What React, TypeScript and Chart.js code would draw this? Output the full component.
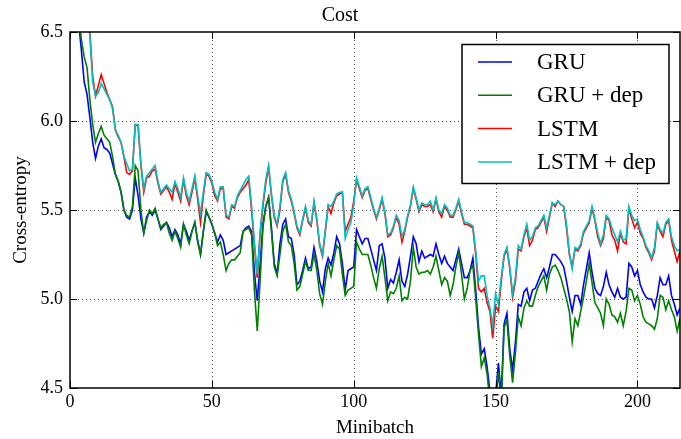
import React, { useEffect, useRef } from "react";
import { Chart, registerables } from "chart.js";

Chart.register(...registerables);

const title = "Cost";
const xTitle = "Minibatch";
const yTitle = "Cross-entropy";
const seriesNames = ["GRU", "GRU + dep", "LSTM", "LSTM + dep"];
const seriesColors = ["#0000ff", "#008000", "#ff0000", "#00bfbf"];
const xTicks = [0, 50, 100, 150, 200];
const yTicks = [4.5, 5.0, 5.5, 6.0, 6.5];

const gru = [
  7.2, 6.95, 6.75, 6.56, 6.4, 6.22, 6.15, 6.02, 5.88, 5.79,
  5.86, 5.9, 5.85, 5.84, 5.82, 5.76, 5.7, 5.66, 5.6, 5.5,
  5.46, 5.45, 5.5, 5.68, 5.58, 5.45, 5.37, 5.46, 5.49, 5.47,
  5.5, 5.45, 5.39, 5.41, 5.43, 5.4, 5.35, 5.39, 5.36, 5.31,
  5.42, 5.38, 5.33, 5.38, 5.43, 5.33, 5.25, 5.38, 5.49, 5.46,
  5.42, 5.37, 5.32, 5.36, 5.33, 5.25, 5.26, 5.27, 5.28, 5.29,
  5.3, 5.38, 5.4, 5.41, 5.38, 5.15, 4.99, 5.19, 5.42, 5.52,
  5.57, 5.4, 5.2, 5.14, 5.31, 5.42, 5.45, 5.35, 5.34, 5.25,
  5.08, 5.1, 5.16, 5.23, 5.17, 5.18, 5.29, 5.21, 5.1, 5.04,
  5.17, 5.23, 5.19, 5.26, 5.35, 5.31, 5.2, 5.05, 5.16, 5.17,
  5.18, 5.39, 5.35, 5.31, 5.34, 5.34, 5.28, 5.22, 5.16, 5.3,
  5.31, 5.23, 5.06, 5.11, 5.09, 5.15, 5.22, 5.1, 5.07, 5.14,
  5.24, 5.35, 5.31, 5.21, 5.27, 5.23, 5.24, 5.25, 5.24, 5.31,
  5.25, 5.2, 5.24, 5.2, 5.18, 5.16, 5.22, 5.28, 5.2, 5.12,
  5.12, 5.16, 5.23, 5.05, 4.84, 4.69, 4.72, 4.62, 4.48, 4.44,
  4.46, 4.64, 4.46, 4.86, 4.92, 4.72, 4.6, 4.76, 4.97, 4.96,
  5.04, 5.06, 4.99, 5.05, 5.06, 5.1, 5.14, 5.17, 5.12, 5.18,
  5.25, 5.25, 5.23, 5.21, 5.18, 5.1, 5.01, 4.93, 5.02, 5.02,
  4.97, 5.08, 5.17, 5.26, 5.15, 5.06, 5.03, 5.02, 5.07, 5.15,
  5.08, 5.04, 5.01, 5.06, 5.01, 5.0, 5.01, 5.2, 5.18, 5.13,
  5.16, 5.08, 5.04, 5.01, 5.0, 5.0, 4.95, 5.02, 5.12, 5.08,
  5.08, 5.13, 5.02, 4.97, 4.91, 4.95,
];

const gruDep = [
  7.2, 6.98, 6.78, 6.6, 6.46, 6.36, 6.3, 6.12, 5.98, 5.88,
  5.93, 5.97, 5.92, 5.9, 5.88, 5.8, 5.7, 5.66, 5.6, 5.5,
  5.47, 5.46, 5.52, 5.75, 5.72, 5.5, 5.37, 5.44, 5.5, 5.48,
  5.51, 5.45, 5.4, 5.42, 5.43, 5.37, 5.33, 5.38, 5.34, 5.29,
  5.42, 5.36, 5.31, 5.38, 5.43, 5.32, 5.25, 5.38, 5.5, 5.46,
  5.42, 5.37, 5.3, 5.32, 5.25, 5.16, 5.2, 5.22, 5.22, 5.24,
  5.26, 5.38, 5.39, 5.4, 5.36, 5.05, 4.82, 5.1, 5.4, 5.52,
  5.57, 5.38, 5.18, 5.13, 5.25, 5.38, 5.42, 5.32, 5.3, 5.2,
  5.05, 5.07, 5.14, 5.21, 5.16, 5.16, 5.25, 5.16, 5.03, 4.97,
  5.1, 5.2, 5.13, 5.22, 5.3, 5.28, 5.14, 5.02, 5.05, 5.06,
  5.07, 5.32, 5.28, 5.25, 5.25, 5.25, 5.19, 5.12, 5.06, 5.17,
  5.24, 5.12, 4.99, 5.04, 5.03, 5.06, 5.13, 4.99, 5.01, 5.0,
  5.1, 5.29, 5.18, 5.14, 5.15, 5.15, 5.16, 5.14, 5.18, 5.24,
  5.16, 5.08, 5.12, 5.1, 5.02, 5.08, 5.18, 5.26, 5.14, 5.0,
  5.06, 5.16, 5.19, 5.0, 4.8, 4.62, 4.67, 4.58, 4.42, 4.38,
  4.42, 4.59, 4.4, 4.84, 4.88, 4.68, 4.53, 4.7, 4.9, 4.85,
  4.95, 4.99, 4.96, 4.96, 5.02, 5.07, 5.1, 5.13, 5.05, 5.14,
  5.18, 5.19, 5.16, 5.12, 5.06, 5.0, 4.93, 4.76, 4.89, 4.85,
  4.93, 5.01, 5.1, 5.2, 5.09, 4.98, 4.95, 4.92, 4.85, 5.0,
  4.97, 4.91, 4.9, 4.87, 4.92, 4.85, 4.93, 5.06, 5.05, 4.99,
  5.02, 4.97, 4.9, 4.87, 4.86, 4.85, 4.83, 4.89, 5.02, 5.01,
  4.94, 4.99, 4.94, 4.9, 4.82, 4.89,
];

const lstm = [
  7.8, 7.5, 7.25, 7.0, 6.85, 6.72, 6.6, 6.5, 6.25, 6.14,
  6.2, 6.26, 6.21, 6.16, 6.12, 6.08, 5.95, 5.91, 5.88, 5.8,
  5.71, 5.7, 5.72, 5.98, 5.97, 5.75, 5.6, 5.68, 5.69, 5.72,
  5.73, 5.65, 5.59, 5.61, 5.63, 5.6, 5.56, 5.65, 5.6, 5.55,
  5.67, 5.58, 5.53, 5.6, 5.68, 5.56, 5.43, 5.58, 5.7, 5.69,
  5.65, 5.58, 5.55, 5.62, 5.62, 5.46, 5.45, 5.52, 5.51, 5.57,
  5.6, 5.62, 5.64, 5.67, 5.5, 5.3, 5.12, 5.36, 5.52, 5.65,
  5.74, 5.58, 5.46, 5.41, 5.5, 5.66, 5.7, 5.6, 5.55, 5.48,
  5.4, 5.36, 5.44, 5.51, 5.43, 5.41, 5.54, 5.44, 5.3, 5.24,
  5.38, 5.52, 5.48, 5.54, 5.58, 5.59, 5.6, 5.38, 5.42, 5.46,
  5.55, 5.67, 5.62, 5.57, 5.61, 5.62, 5.56, 5.5, 5.45, 5.5,
  5.56, 5.48, 5.35, 5.36, 5.4, 5.46, 5.42, 5.32, 5.38, 5.46,
  5.52, 5.62, 5.56, 5.49, 5.53, 5.52, 5.52, 5.53, 5.49, 5.56,
  5.49, 5.46, 5.52, 5.5, 5.46, 5.46, 5.5, 5.55, 5.48, 5.42,
  5.42, 5.41, 5.4, 5.25, 5.06, 5.04, 5.06, 4.98, 4.93, 4.78,
  4.96, 4.93, 5.1, 5.24, 5.28, 5.17, 5.01, 5.1, 5.28, 5.27,
  5.35, 5.4, 5.3, 5.33, 5.39, 5.4, 5.43, 5.46, 5.38, 5.46,
  5.54, 5.52, 5.55, 5.53, 5.52, 5.4, 5.25, 5.18, 5.28, 5.27,
  5.3, 5.37, 5.4, 5.43, 5.51, 5.44, 5.35, 5.3, 5.34, 5.46,
  5.44, 5.36, 5.33, 5.27, 5.37, 5.32, 5.31, 5.51, 5.45, 5.4,
  5.43, 5.37, 5.34, 5.29, 5.26, 5.22, 5.27, 5.42, 5.38, 5.35,
  5.42, 5.44, 5.33, 5.27, 5.21, 5.27,
];

const lstmDep = [
  7.8, 7.5, 7.25, 7.0, 6.85, 6.72, 6.6, 6.48, 6.22, 6.14,
  6.16, 6.21, 6.18, 6.15, 6.12, 6.07, 5.95, 5.92, 5.88, 5.8,
  5.76, 5.72, 5.73, 5.98, 5.98, 5.76, 5.62, 5.69, 5.71, 5.73,
  5.75, 5.66, 5.6, 5.62, 5.64, 5.62, 5.6, 5.66, 5.62, 5.57,
  5.68, 5.6, 5.55, 5.62, 5.69, 5.58, 5.48, 5.6, 5.71, 5.7,
  5.66, 5.6, 5.56, 5.63, 5.63, 5.47, 5.46, 5.53, 5.52, 5.58,
  5.61, 5.64, 5.67, 5.69, 5.52, 5.32, 5.14, 5.38, 5.54, 5.67,
  5.75, 5.59, 5.47, 5.42, 5.52, 5.67, 5.71, 5.61, 5.56, 5.49,
  5.41, 5.37, 5.45, 5.52, 5.44, 5.42, 5.55, 5.45, 5.31, 5.25,
  5.39, 5.53, 5.52, 5.55, 5.59, 5.6, 5.6, 5.34, 5.39, 5.43,
  5.53, 5.68, 5.63, 5.58, 5.62, 5.63, 5.57, 5.51, 5.46, 5.51,
  5.57, 5.49, 5.36, 5.37, 5.41, 5.47, 5.44, 5.35, 5.39, 5.47,
  5.53, 5.63, 5.57, 5.5, 5.54, 5.53, 5.53, 5.55, 5.5, 5.57,
  5.5, 5.48, 5.53, 5.51, 5.47, 5.47, 5.51, 5.56, 5.49, 5.43,
  5.43, 5.42, 5.41, 5.27, 5.1, 5.13, 5.13, 5.02, 4.95, 4.85,
  5.03, 4.97, 5.12, 5.25, 5.29, 5.18, 5.03, 5.12, 5.3, 5.28,
  5.36, 5.42, 5.33, 5.35, 5.4, 5.41, 5.44, 5.47, 5.4, 5.47,
  5.54, 5.53, 5.55, 5.53, 5.52, 5.42, 5.26, 5.17, 5.29, 5.28,
  5.31, 5.38, 5.41, 5.44, 5.52, 5.45, 5.37, 5.31, 5.36, 5.47,
  5.45, 5.4, 5.36, 5.32, 5.38, 5.33, 5.34, 5.52, 5.47, 5.44,
  5.45, 5.39, 5.35, 5.3, 5.27, 5.23, 5.29, 5.43, 5.39, 5.37,
  5.43, 5.45, 5.35, 5.3, 5.27, 5.28,
];

const SERIF = "'Liberation Serif', 'Times New Roman', Times, serif";

const framePlugin = {
  id: "mplFrame",
  beforeDatasetsDraw(chart: any) {
    const { ctx, chartArea: a, scales } = chart;
    ctx.save();
    ctx.strokeStyle = "rgba(0,0,0,0.7)";
    ctx.lineWidth = 1;
    ctx.setLineDash([1, 3]);
    xTicks.forEach((v) => {
      if (v <= scales.x.min || v >= scales.x.max) return;
      const px = Math.round(scales.x.getPixelForValue(v)) + 0.5;
      ctx.beginPath();
      ctx.moveTo(px, a.top);
      ctx.lineTo(px, a.bottom);
      ctx.stroke();
    });
    yTicks.forEach((v) => {
      if (v <= scales.y.min || v >= scales.y.max) return;
      const py = Math.round(scales.y.getPixelForValue(v)) + 0.5;
      ctx.beginPath();
      ctx.moveTo(a.left, py);
      ctx.lineTo(a.right, py);
      ctx.stroke();
    });
    ctx.restore();
  },
  afterDatasetsDraw(chart: any) {
    const { ctx, chartArea: a, scales } = chart;
    ctx.save();
    ctx.strokeStyle = "#000";
    ctx.lineWidth = 1;
    const tl = 7;
    xTicks.forEach((v) => {
      const px = Math.round(scales.x.getPixelForValue(v)) + 0.5;
      ctx.beginPath();
      ctx.moveTo(px, a.bottom);
      ctx.lineTo(px, a.bottom - tl);
      ctx.moveTo(px, a.top);
      ctx.lineTo(px, a.top + tl);
      ctx.stroke();
    });
    yTicks.forEach((v) => {
      const py = Math.round(scales.y.getPixelForValue(v)) + 0.5;
      ctx.beginPath();
      ctx.moveTo(a.left, py);
      ctx.lineTo(a.left + tl, py);
      ctx.moveTo(a.right, py);
      ctx.lineTo(a.right - tl, py);
      ctx.stroke();
    });
    ctx.lineWidth = 1.5;
    ctx.strokeRect(a.left, a.top, a.right - a.left, a.bottom - a.top);

    // legend box
    const lx = 462, ly = 44.5, lw = 207, lh = 139;
    ctx.fillStyle = "#fff";
    ctx.fillRect(lx, ly, lw, lh);
    ctx.lineWidth = 1.5;
    ctx.strokeStyle = "#000";
    ctx.strokeRect(lx, ly, lw, lh);
    const rows = [62, 95.3, 128.6, 162];
    ctx.font = `23px ${SERIF}`;
    ctx.textBaseline = "middle";
    ctx.textAlign = "left";
    seriesNames.forEach((name, i) => {
      ctx.strokeStyle = seriesColors[i];
      ctx.lineWidth = 1.5;
      ctx.beginPath();
      ctx.moveTo(478, rows[i]);
      ctx.lineTo(512, rows[i]);
      ctx.stroke();
      ctx.fillStyle = "#000";
      ctx.fillText(name, 537, rows[i] + 1);
    });
    ctx.restore();
  },
};

export default function App() {
  const ref = useRef<HTMLCanvasElement | null>(null);
  useEffect(() => {
    if (!ref.current) return;
    const all = [gru, gruDep, lstm, lstmDep];
    const chart = new Chart(ref.current, {
      type: "line",
      data: {
        datasets: all.map((arr, i) => ({
          label: seriesNames[i],
          data: arr.map((y, x) => ({ x, y })),
          borderColor: seriesColors[i],
          backgroundColor: seriesColors[i],
          borderWidth: 1.6,
          pointRadius: 0,
          tension: 0,
          fill: false,
          order: 3 - i,
        })),
      },
      options: {
        animation: false,
        responsive: false,
        maintainAspectRatio: false,
        events: [],
        layout: { padding: { left: 0, right: 1, top: 0, bottom: 0 } },
        plugins: {
          legend: { display: false },
          tooltip: { enabled: false },
          title: {
            display: true,
            text: title,
            color: "#000",
            font: { family: SERIF, size: 20, weight: "normal" },
            padding: { top: 4, bottom: 4 },
          },
        },
        scales: {
          x: {
            type: "linear",
            min: 0,
            max: 215,
            bounds: "data",
            afterBuildTicks: (s: any) => {
              s.ticks = xTicks.map((v) => ({ value: v }));
            },
            afterFit: (s: any) => {
              s.height = 51;
              s.paddingLeft = 0;
              s.paddingRight = 0;
            },
            ticks: {
              color: "#000",
              font: { family: SERIF, size: 18 },
              padding: 3,
              maxRotation: 0,
              autoSkip: false,
            },
            grid: { display: false, drawTicks: false },
            border: { display: false },
            title: {
              display: true,
              text: xTitle,
              color: "#000",
              font: { family: SERIF, size: 19 },
              padding: { top: 0, bottom: 0 },
            },
          },
          y: {
            type: "linear",
            min: 4.5,
            max: 6.5,
            afterBuildTicks: (s: any) => {
              s.ticks = yTicks.map((v) => ({ value: v }));
            },
            afterFit: (s: any) => {
              s.width = 70;
            },
            ticks: {
              color: "#000",
              font: { family: SERIF, size: 18 },
              padding: 7,
              autoSkip: false,
              callback: (v: any) => Number(v).toFixed(1),
            },
            grid: { display: false, drawTicks: false },
            border: { display: false },
            title: {
              display: true,
              text: yTitle,
              color: "#000",
              font: { family: SERIF, size: 19 },
              padding: { top: 10, bottom: 0 },
            },
          },
        },
      },
      plugins: [framePlugin],
    });
    return () => chart.destroy();
  }, []);
  return (
    <div style={{ position: "absolute", left: 0, top: 0, width: 681, height: 439, background: "#fff" }}>
      <canvas ref={ref} width={681} height={439} />
    </div>
  );
}
